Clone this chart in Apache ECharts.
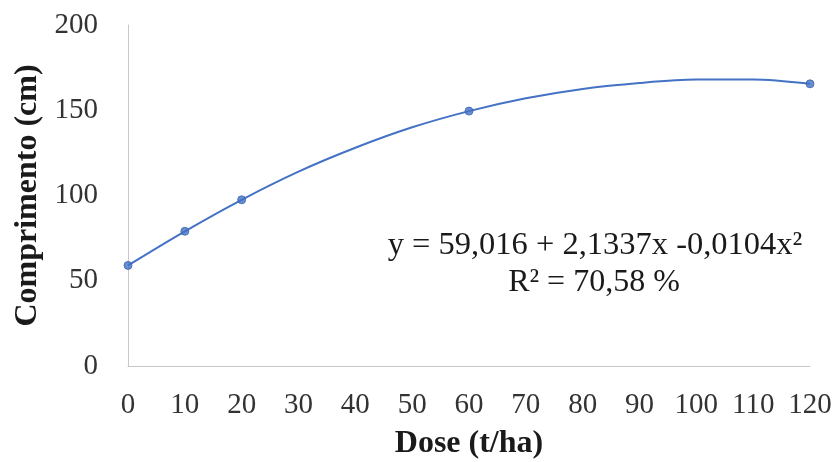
<!DOCTYPE html>
<html>
<head>
<meta charset="utf-8">
<script src="https://cdn.jsdelivr.net/npm/echarts@6/dist/echarts.min.js"></script>
<style>
  html, body { margin: 0; padding: 0; background: #fff; }
  #chart { width: 836px; height: 462px; }
</style>
</head>
<body>
<div id="chart"></div>
<script>
// observed points
var doses = [0, 10, 20, 60, 120];
var comprimento = [59, 79, 97.5, 149.5, 165.5];

// fitted curve at every 10 t/ha
var curveX = [0, 10, 20, 30, 40, 50, 60, 70, 80, 90, 100, 110, 120];
var curveY = [59, 79, 97.5, 114, 128, 140, 149.5, 157, 162.5, 166, 168, 168, 165.5];

var eqLine1 = 'y = 59,016 + 2,1337x -0,0104x²';
var eqLine2 = 'R² = 70,58 %';

var serif = "'Liberation Serif', 'Times New Roman', serif";
var blue = '#4472C4';

var pts = doses.map(function (d, i) { return [d, comprimento[i]]; });
var curve = curveX.map(function (d, i) { return [d, curveY[i]]; });

var myChart = echarts.init(document.getElementById('chart'));
var option = {
	backgroundColor: '#fff',
	animation: false,
	grid: {
		left: 128,
		right: 26,
		top: 25,
		bottom: 96,
		outerBoundsMode: 'none'
	},
	xAxis: {
		type: 'value',
		min: 0,
		max: 120,
		interval: 10,
		name: 'Dose (t/ha)',
		nameLocation: 'middle',
		nameGap: 62,
		nameTextStyle: {
			fontFamily: serif,
			fontWeight: 'bold',
			fontSize: 32,
			color: '#1a1a1a'
		},
		axisLine: { show: true, lineStyle: { color: '#c8c8c8', width: 1 } },
		axisTick: { show: false },
		splitLine: { show: false },
		axisLabel: {
			margin: 25,
			fontFamily: serif,
			fontSize: 29,
			color: '#333'
		}
	},
	yAxis: {
		type: 'value',
		min: 0,
		max: 200,
		interval: 50,
		name: 'Comprimento (cm)',
		nameLocation: 'middle',
		nameGap: 75,
		nameTextStyle: {
			fontFamily: serif,
			fontWeight: 'bold',
			fontSize: 32,
			color: '#1a1a1a'
		},
		axisLine: { show: true, lineStyle: { color: '#c8c8c8', width: 1 } },
		axisTick: { show: false },
		splitLine: { show: false },
		axisLabel: {
			margin: 30,
			fontFamily: serif,
			fontSize: 29,
			color: '#333'
		}
	},
	series: [{
		name: 'ajuste',
		type: 'line',
		data: curve,
		smooth: 0.3,
		showSymbol: false,
		lineStyle: { color: blue, width: 2 },
		z: 2
	}, {
		name: 'observado',
		type: 'scatter',
		data: pts,
		symbol: 'circle',
		symbolSize: 8,
		itemStyle: { color: blue, borderColor: '#3b64b0', borderWidth: 1 },
		z: 3
	}],
	graphic: [{
		type: 'text',
		x: 595,
		y: 229,
		style: {
			text: eqLine1,
			font: '32.5px ' + serif,
			fill: '#1a1a1a',
			textAlign: 'center'
		}
	}, {
		type: 'text',
		x: 594,
		y: 267,
		style: {
			text: eqLine2,
			font: '32px ' + serif,
			fill: '#1a1a1a',
			textAlign: 'center'
		}
	}]
};
myChart.setOption(option);
</script>
</body>
</html>
